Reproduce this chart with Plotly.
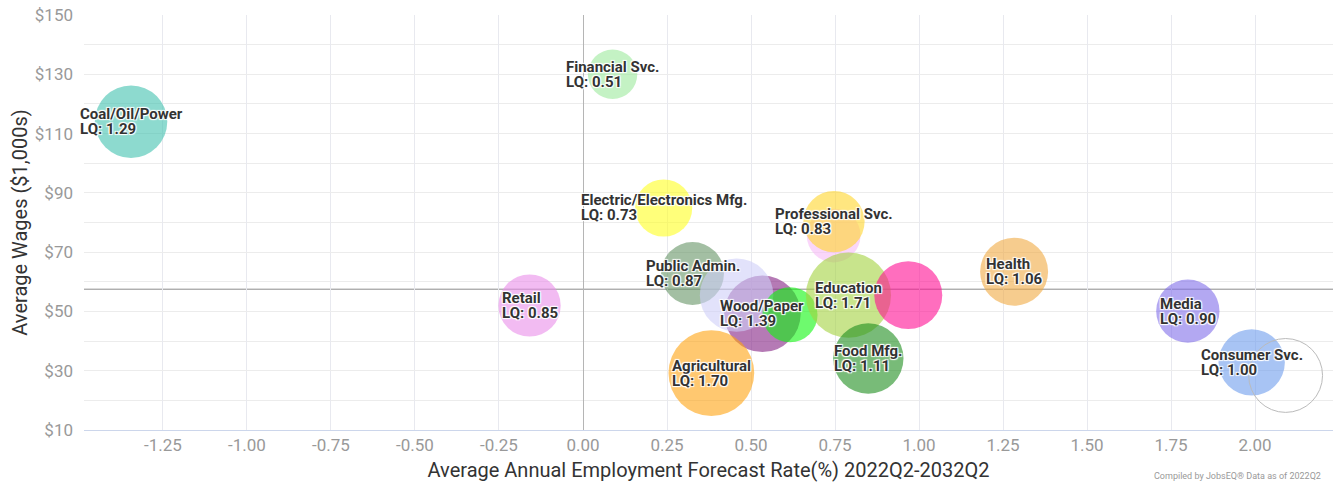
import plotly.graph_objects as go

# ---------------- data ----------------
industries = ["Coal/Oil/Power", "Financial Svc.", "Electric/Electronics Mfg.", None,
              "Professional Svc.", "Public Admin.", "Wood/Paper", None, None,
              "Education", None, "Food Mfg.", "Agricultural", "Retail", "Health",
              "Media", "Consumer Svc.", None]
forecast_rate = [-1.345, 0.088, 0.240, 0.746, 0.747, 0.326, 0.534, 0.457, 0.616,
                 0.790, 0.968, 0.849, 0.382, -0.159, 1.283, 1.800, 1.990, 2.091]
avg_wage = [114.0, 130.0, 84.9, 75.6, 80.3, 62.8, 49.2, 55.5, 48.9,
            55.5, 55.5, 34.1, 29.2, 52.0, 63.4, 50.1, 32.8, 28.4]
location_quotient = [1.29, 0.51, 0.73, None, 0.83, 0.87, 1.39, None, None,
                     1.71, None, 1.11, 1.70, 0.85, 1.06, 0.90, 1.00, None]
employment = [12600, 5860, 7840, 6920, 9000, 9490, 14060, 12960, 7290,
              17390, 11090, 11900, 17640, 9300, 11090, 9610, 10560, 13100]
AVERAGE_WAGE = 57.5
x_ticks = [-1.25, -1.00, -0.75, -0.50, -0.25, 0.00, 0.25, 0.50, 0.75, 1.00, 1.25, 1.50, 1.75, 2.00]
y_ticks = [10, 30, 50, 70, 90, 110, 130, 150]

# ---------------- styles ----------------
A = 0.6
fill_colors = [
    (65, 193, 175), (157, 233, 157), (255, 255, 33), (247, 187, 247),
    (255, 213, 43), (102, 149, 102), (132, 33, 132), (207, 207, 248),
    (13, 247, 13), (163, 210, 63), (255, 13, 147), (30, 142, 30),
    (255, 163, 17), (233, 142, 233), (240, 170, 67), (128, 110, 233),
    (110, 157, 237), None,
]
marker_colors = [f"rgba({c[0]},{c[1]},{c[2]},{A})" if c else "rgba(255,255,255,0)" for c in fill_colors]
line_colors = ["rgba(0,0,0,0)" if c else "#bbbbbb" for c in fill_colors]
line_widths = [0 if c else 1 for c in fill_colors]

fig = go.Figure()
fig.add_trace(go.Scatter(
    x=forecast_rate, y=avg_wage, mode="markers",
    marker=dict(size=employment, sizemode="area", sizeref=4.8, opacity=1,
                color=marker_colors,
                line=dict(color=line_colors, width=line_widths)),
    text=[n or "" for n in industries],
    hoverinfo="text+x+y", showlegend=False,
))

annotations = []
for name, xv, yv, lq in zip(industries, forecast_rate, avg_wage, location_quotient):
    if not name:
        continue
    annotations.append(dict(
        x=xv, y=yv, xref="x", yref="y", showarrow=False,
        xanchor="center", yanchor="middle", align="left",
        text=(f'<span style="font-size:15px">{name}</span><br>'
              f'<span style="font-size:15px">LQ: {lq:.2f}</span>'),
        font=dict(family="Roboto", size=11.6, color="#333333", weight="bold",
                  shadow="1px 1px 1px #fff, -1px -1px 1px #fff, 1px -1px 1px #fff, -1px 1px 1px #fff"),
    ))

annotations.append(dict(
    x=0.992, y=-0.128, xref="paper", yref="paper", showarrow=False,
    xanchor="right", yanchor="bottom",
    text="Compiled by JobsEQ® Data as of 2022Q2",
    font=dict(family="Roboto", size=9, color="#999999"),
))

fig.add_shape(type="line", xref="paper", yref="y", x0=0, x1=1,
              y0=AVERAGE_WAGE, y1=AVERAGE_WAGE,
              line=dict(color="#8c8c8c", width=1), layer="below")

fig.update_layout(
    width=1333, height=483,
    margin=dict(l=84, r=0, t=15, b=53),
    paper_bgcolor="white", plot_bgcolor="white",
    font=dict(family="Roboto", color="#333333"),
    annotations=annotations,
    xaxis=dict(
        range=[-1.485, 2.232], tickvals=x_ticks,
        ticktext=[f"{v:.2f}" for v in x_ticks],
        showgrid=True, gridcolor="#e8e9ef", gridwidth=1,
        zeroline=True, zerolinecolor="#b5b5b5", zerolinewidth=1,
        showline=True, linecolor="#ccd6eb", linewidth=1,
        ticks="", automargin=False,
        tickfont=dict(family="Roboto", size=17, color="#999999"),
        title=dict(text="Average Annual Employment Forecast Rate(%) 2022Q2-2032Q2",
                   font=dict(family="Roboto", size=20, color="#333333"), standoff=8),
    ),
    yaxis=dict(
        range=[10, 150], tickvals=y_ticks, ticktext=[f"${v}" for v in y_ticks],
        showgrid=True, gridcolor="#ececec", gridwidth=1,
        minor=dict(dtick=10, tick0=10, showgrid=True, gridcolor="#ececec", gridwidth=1),
        zeroline=False, showline=False,
        ticks="", ticklabelstandoff=10, automargin=False,
        tickfont=dict(family="Roboto", size=17, color="#999999"),
        title=dict(text="Average Wages ($1,000s)",
                   font=dict(family="Roboto", size=20, color="#333333"), standoff=1),
    ),
)

fig.write_html(
    "out.html",
    config={"displayModeBar": False},
    post_script="document.body.style.margin='0';document.body.style.overflow='hidden';",
)
